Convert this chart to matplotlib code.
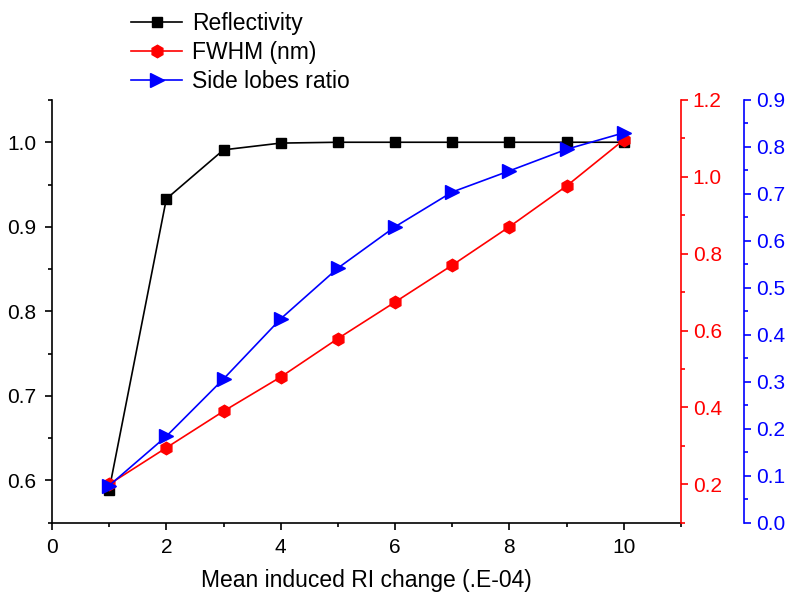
import matplotlib.pyplot as plt
from matplotlib.ticker import MultipleLocator

plt.rcParams['font.family'] = ['Liberation Sans', 'DejaVu Sans']

ri_change = [1, 2, 3, 4, 5, 6, 7, 8, 9, 10]
reflectivity = [0.589, 0.933, 0.991, 0.999, 1.0, 1.0, 1.0, 1.0, 1.0, 1.0]
fwhm = [0.200, 0.295, 0.390, 0.479, 0.579, 0.674, 0.770, 0.870, 0.976, 1.096]
side_lobes = [0.079, 0.184, 0.306, 0.434, 0.542, 0.630, 0.704, 0.749, 0.795, 0.830]

red = '#ff0000'
blue = '#0000ff'

fig = plt.figure(figsize=(7.88, 5.93), dpi=100)
ax = fig.add_axes([0.066, 0.1186, 0.798, 0.7128])
ax_r = ax.twinx()
ax_b = ax.twinx()
ax_b.spines['right'].set_position(('outward', 45.5))

l1, = ax.plot(ri_change, reflectivity, color='black', lw=1.2, marker='s', ms=7.5,
              label='Reflectivity')
l2, = ax_r.plot(ri_change, fwhm, color=red, lw=1.2, marker='h', ms=9,
                label='FWHM (nm)')
l3, = ax_b.plot(ri_change, side_lobes, color=blue, lw=1.2, marker='>', ms=9.5,
                label='Side lobes ratio')

ax.set_xlim(0, 11)
ax.set_ylim(0.55, 1.05)
ax_r.set_ylim(0.1, 1.2)
ax_b.set_ylim(0.0, 0.9)

ax.xaxis.set_major_locator(MultipleLocator(2))
ax.xaxis.set_minor_locator(MultipleLocator(1))
ax.yaxis.set_major_locator(MultipleLocator(0.1))
ax.yaxis.set_minor_locator(MultipleLocator(0.05))
ax_r.yaxis.set_major_locator(MultipleLocator(0.2))
ax_r.yaxis.set_minor_locator(MultipleLocator(0.1))
ax_b.yaxis.set_major_locator(MultipleLocator(0.1))
ax_b.yaxis.set_minor_locator(MultipleLocator(0.05))

ax.xaxis.set_major_formatter(lambda v, p: f'{v:.0f}')
for a in (ax, ax_r, ax_b):
    a.yaxis.set_major_formatter(lambda v, p: f'{v:.1f}')

# Origin-style frame: only left, bottom and the two right axes
ax.spines['top'].set_visible(False)
ax.spines['right'].set_visible(False)
for a in (ax_r, ax_b):
    a.spines['top'].set_visible(False)
    a.spines['left'].set_visible(False)
    a.spines['bottom'].set_visible(False)
for s in ('left', 'bottom'):
    ax.spines[s].set_linewidth(1.2)
ax_r.spines['right'].set_color(red)
ax_r.spines['right'].set_linewidth(1.2)
ax_b.spines['right'].set_color(blue)
ax_b.spines['right'].set_linewidth(1.2)

ax.tick_params(which='major', direction='out', length=5, width=1.2, labelsize=15, pad=6)
ax.tick_params(which='minor', direction='out', length=3, width=1.2)
ax_r.tick_params(which='major', length=5, width=1.2, colors=red, labelsize=15)
ax_r.tick_params(which='minor', length=3, width=1.2, colors=red)
ax_b.tick_params(which='major', length=5, width=1.2, colors=blue, labelsize=15)
ax_b.tick_params(which='minor', length=3, width=1.2, colors=blue)

ax.set_xlabel('Mean induced RI change (.E-04)', fontsize=16.5, labelpad=8.5)

fig.legend(handles=[l1, l2, l3], loc='upper left', bbox_to_anchor=(0.155, 0.995),
           frameon=False, fontsize=16.5, handlelength=2.2, handletextpad=0.45,
           labelspacing=0.26, borderaxespad=0)

fig.savefig('out.png', dpi=100)
